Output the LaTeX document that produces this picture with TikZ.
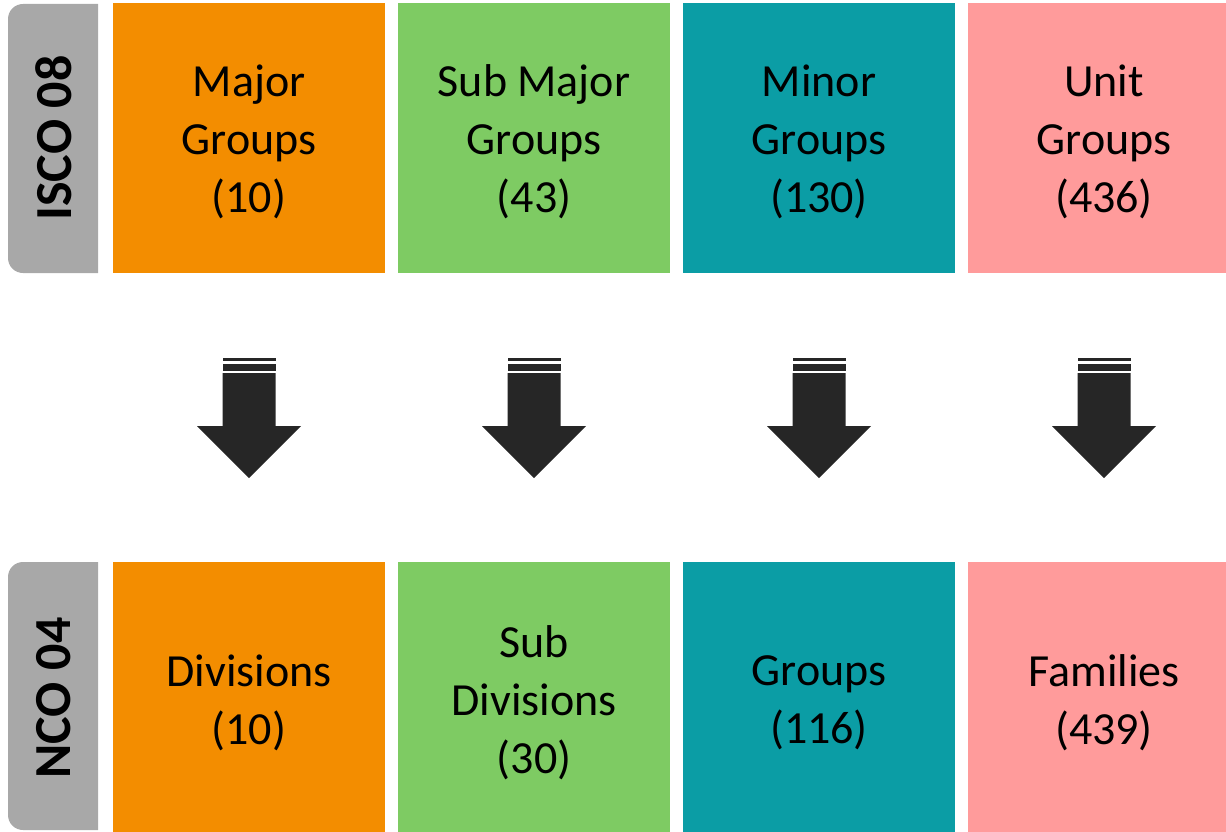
\documentclass[tikz,border=0pt]{standalone}
\usepackage{fontspec}
\setmainfont{Carlito}
\definecolor{cOrange}{HTML}{F38D00}
\definecolor{cGreen}{HTML}{7ECB63}
\definecolor{cTeal}{HTML}{0B9DA5}
\definecolor{cPink}{HTML}{FF9B9B}
\definecolor{cGrey}{HTML}{A8A8A8}
\definecolor{cArrow}{HTML}{262626}
\tikzset{
  box/.style={rectangle, inner sep=0pt, minimum width=272pt, minimum height=270pt, align=center,
    font=\fontsize{46}{58}\selectfont, text=black},
  boxtext/.style={inner sep=0pt, align=center, font=\fontsize{46}{58}\selectfont, text=black},
  tablabel/.style={rotate=90, inner sep=0pt, font=\fontsize{52}{60}\selectfont\bfseries, text=black},
  blockarrow/.style={fill=cArrow, draw=none}
}
\begin{document}
\begin{tikzpicture}[x=1pt, y=-1pt]
\useasboundingbox (0,0) rectangle (1226,832);
% top row
\node[box, fill=cOrange] (t1) at (249,138) {};
\node[box, fill=cGreen]  (t2) at (534,138) {};
\node[box, fill=cTeal]   (t3) at (819,138) {};
\node[box, fill=cPink]   (t4) at (1104,138) {};
\node[boxtext] (t1l) at (249,142) {Major\\Groups\\(10)};
\node[boxtext] (t2l) at (534,142) {Sub Major\\Groups\\(43)};
\node[boxtext] (t3l) at (819,142) {Minor\\Groups\\(130)};
\node[boxtext] (t4l) at (1104,142) {Unit\\Groups\\(436)};
% bottom row
\node[box, fill=cOrange] (b1) at (249,697) {};
\node[box, fill=cGreen]  (b2) at (534,697) {};
\node[box, fill=cTeal]   (b3) at (819,697) {};
\node[box, fill=cPink]   (b4) at (1104,697) {};
\node[boxtext] (b1l) at (249,703) {Divisions\\(10)};
\node[boxtext] (b2l) at (534,703) {Sub\\Divisions\\(30)};
\node[boxtext] (b3l) at (819,703) {Groups\\(116)};
\node[boxtext] (b4l) at (1104,703) {Families\\(439)};
% tabs
\fill[cGrey] (98,4) -- (23,4) .. controls (14.7,4) and (8,10.7) .. (8,19) -- (8,258)
  .. controls (8,266.3) and (14.7,273) .. (23,273) -- (98,273) -- cycle;
\node[tablabel] (isco) at (54,138) {ISCO 08};
\fill[cGrey] (98,562) -- (23,562) .. controls (14.7,562) and (8,568.7) .. (8,577) -- (8,815)
  .. controls (8,823.3) and (14.7,830) .. (23,830) -- (98,830) -- cycle;
\node[tablabel] (nco) at (54,698) {NCO 04};
% arrows
\foreach \i in {1,2,3,4}{
  \begin{scope}[shift={(t\i.south)}]
    \fill[blockarrow] (-26.5,85) rectangle (26.5,88);
    \fill[blockarrow] (-26.5,91) rectangle (26.5,98);
    \fill[blockarrow] (-26.5,100) -- (26.5,100) -- (26.5,153) -- (52,153) -- (0,205)
      -- (-52,153) -- (-26.5,153) -- cycle;
  \end{scope}
}
\end{tikzpicture}
\end{document}
